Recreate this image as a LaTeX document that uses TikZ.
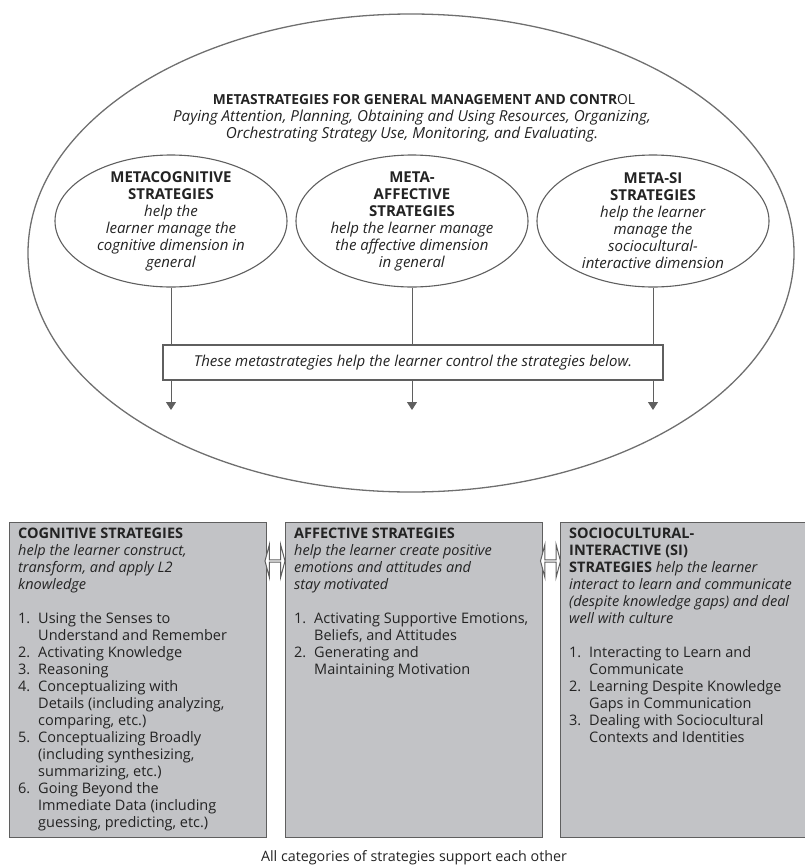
\documentclass[tikz,border=0pt]{standalone}
\usepackage{fontspec}
\setmainfont{Open Sans}
\usetikzlibrary{shapes.geometric,shapes.arrows,arrows.meta,positioning}

\definecolor{boxgray}{RGB}{194,195,198}
\definecolor{linegray}{RGB}{95,95,95}
\definecolor{inkgray}{RGB}{35,35,35}

\newcommand{\nr}[1]{\makebox[20pt][l]{#1}}
\newcommand{\ind}{\hspace*{20pt}}

\tikzset{
    metaell/.style={draw=linegray, line width=1.1, ellipse, minimum width=232, minimum height=132, inner sep=0},
    metatxt/.style={align=center, text=inkgray, font=\fontsize{15}{17}\selectfont},
    catbox/.style={draw=linegray, line width=1.3, fill=boxgray, minimum width=257, minimum height=315, anchor=north west, inner sep=0},
    cattxt/.style={align=left, anchor=north west, inner xsep=9, inner ysep=6, text=inkgray, font=\fontsize{14.5}{17}\selectfont},
    link/.style={double arrow, draw=linegray, fill=white, line width=1, minimum width=33, minimum height=20,
        double arrow head extend=7.5, double arrow tip angle=150, inner sep=0}
}

\begin{document}
\begin{tikzpicture}[x=1pt,y=-1pt]
    \useasboundingbox (0,0) rectangle (804,868);

        % outer ellipse with the metastrategies
        \node[draw=linegray!90, line width=1.3, ellipse, minimum width=766, minimum height=478] (outer) at (411,253) {};

        \node[text=inkgray, font=\fontsize{13.8}{17}\selectfont] (ttl) at (424,100)
        {\textbf{METASTRATEGIES FOR GENERAL MANAGEMENT AND CONTR}OL};
        \node[align=center, text=inkgray, font=\fontsize{15.2}{17.5}\selectfont\itshape] (sub) at (412,126)
        {Paying Attention, Planning, Obtaining and Using Resources, Organizing,\\
         Orchestrating Strategy Use, Monitoring, and Evaluating.};

        \node[metaell] (mc) at (171,221) {};
        \node[metatxt] (mct) at (mc)
        {
            \textbf{METACOGNITIVE}\\
            \textbf{STRATEGIES}\\
            \textit{help the}\\
            \textit{learner manage the}\\
            \textit{cognitive dimension in}\\
            \textit{general}};
        \node[metaell] (ma) at (412,221) {};
        \node[metatxt] (mat) at (ma)
        {
            \textbf{META-}\\
            \textbf{AFFECTIVE}\\
            \textbf{STRATEGIES}\\
            \textit{help the learner manage}\\
            \textit{the affective dimension}\\
            \textit{in general}};
        \node[metaell] (ms) at (653,221) {};
        \node[metatxt] (mst) at (ms)
        {
            \textbf{META-SI}\\
            \textbf{STRATEGIES}\\
            \textit{help the learner}\\
            \textit{manage the}\\
            \textit{sociocultural-}\\
            \textit{interactive dimension}};

        \node[draw=linegray, line width=1.1, minimum width=500, minimum height=35, text=inkgray,
            font=\fontsize{15}{17}\selectfont\itshape] (ctrl) at (413,362.5)
        {These metastrategies help the learner control the strategies below.};
        \path[draw,linegray,line width=1] (mc) -- (mc |- ctrl.north);
        \path[draw,linegray,line width=1] (ma) -- (ma |- ctrl.north);
        \path[draw,linegray,line width=1] (ms) -- (ms |- ctrl.north);

        \coordinate (d1) at (171,410);
        \coordinate (d2) at (412,410);
        \coordinate (d3) at (653,410);
        \path[draw,linegray,line width=1,-{Triangle[length=8,width=10]}] (ctrl.south -| mc) -- (d1);
        \path[draw,linegray,line width=1,-{Triangle[length=8,width=10]}] (ctrl.south -| ma) -- (d2);
        \path[draw,linegray,line width=1,-{Triangle[length=8,width=10]}] (ctrl.south -| ms) -- (d3);

        % the three categories
        \node[catbox] (cog) at (9,522) {};
        \node[cattxt] (cogt) at (cog.north west)
        {
            \textbf{COGNITIVE STRATEGIES}\\
            \textit{help the learner construct,}\\
            \textit{transform, and apply L2}\\
            \textit{knowledge}\\[17pt]
            \nr{1.}Using the Senses to\\
            \ind Understand and Remember\\
            \nr{2.}Activating Knowledge\\
            \nr{3.}Reasoning\\
            \nr{4.}Conceptualizing with\\
            \ind Details (including analyzing,\\
            \ind comparing, etc.)\\
            \nr{5.}Conceptualizing Broadly\\
            \ind (including synthesizing,\\
            \ind summarizing, etc.)\\
            \nr{6.}Going Beyond the\\
            \ind Immediate Data (including\\
            \ind guessing, predicting, etc.)};
        \node[catbox] (aff) at (285,522) {};
        \node[cattxt] (afft) at (aff.north west)
        {
            \textbf{AFFECTIVE STRATEGIES}\\
            \textit{help the learner create positive}\\
            \textit{emotions and attitudes and}\\
            \textit{stay motivated}\\[17pt]
            \nr{1.}Activating Supportive Emotions,\\
            \ind Beliefs, and Attitudes\\
            \nr{2.}Generating and\\
            \ind Maintaining Motivation};
        \node[catbox] (soc) at (560,522) {};
        \node[cattxt] (soct) at (soc.north west)
        {
            \textbf{SOCIOCULTURAL-}\\
            \textbf{INTERACTIVE (SI)}\\
            \textbf{STRATEGIES} \textit{help the learner}\\
            \textit{interact to learn and communicate}\\
            \textit{(despite knowledge gaps) and deal}\\
            \textit{well with culture}\\[17pt]
            \nr{1.}Interacting to Learn and\\
            \ind Communicate\\
            \nr{2.}Learning Despite Knowledge\\
            \ind Gaps in Communication\\
            \nr{3.}Dealing with Sociocultural\\
            \ind Contexts and Identities};

        \node[link] (l1) at (275,561) {};
        \node[link] (l2) at (550.5,561) {};

        \node[text=inkgray, font=\fontsize{14.3}{17}\selectfont] (foot) at (414,858)
        {All categories of strategies support each other};
    \end{tikzpicture}
\end{document}
